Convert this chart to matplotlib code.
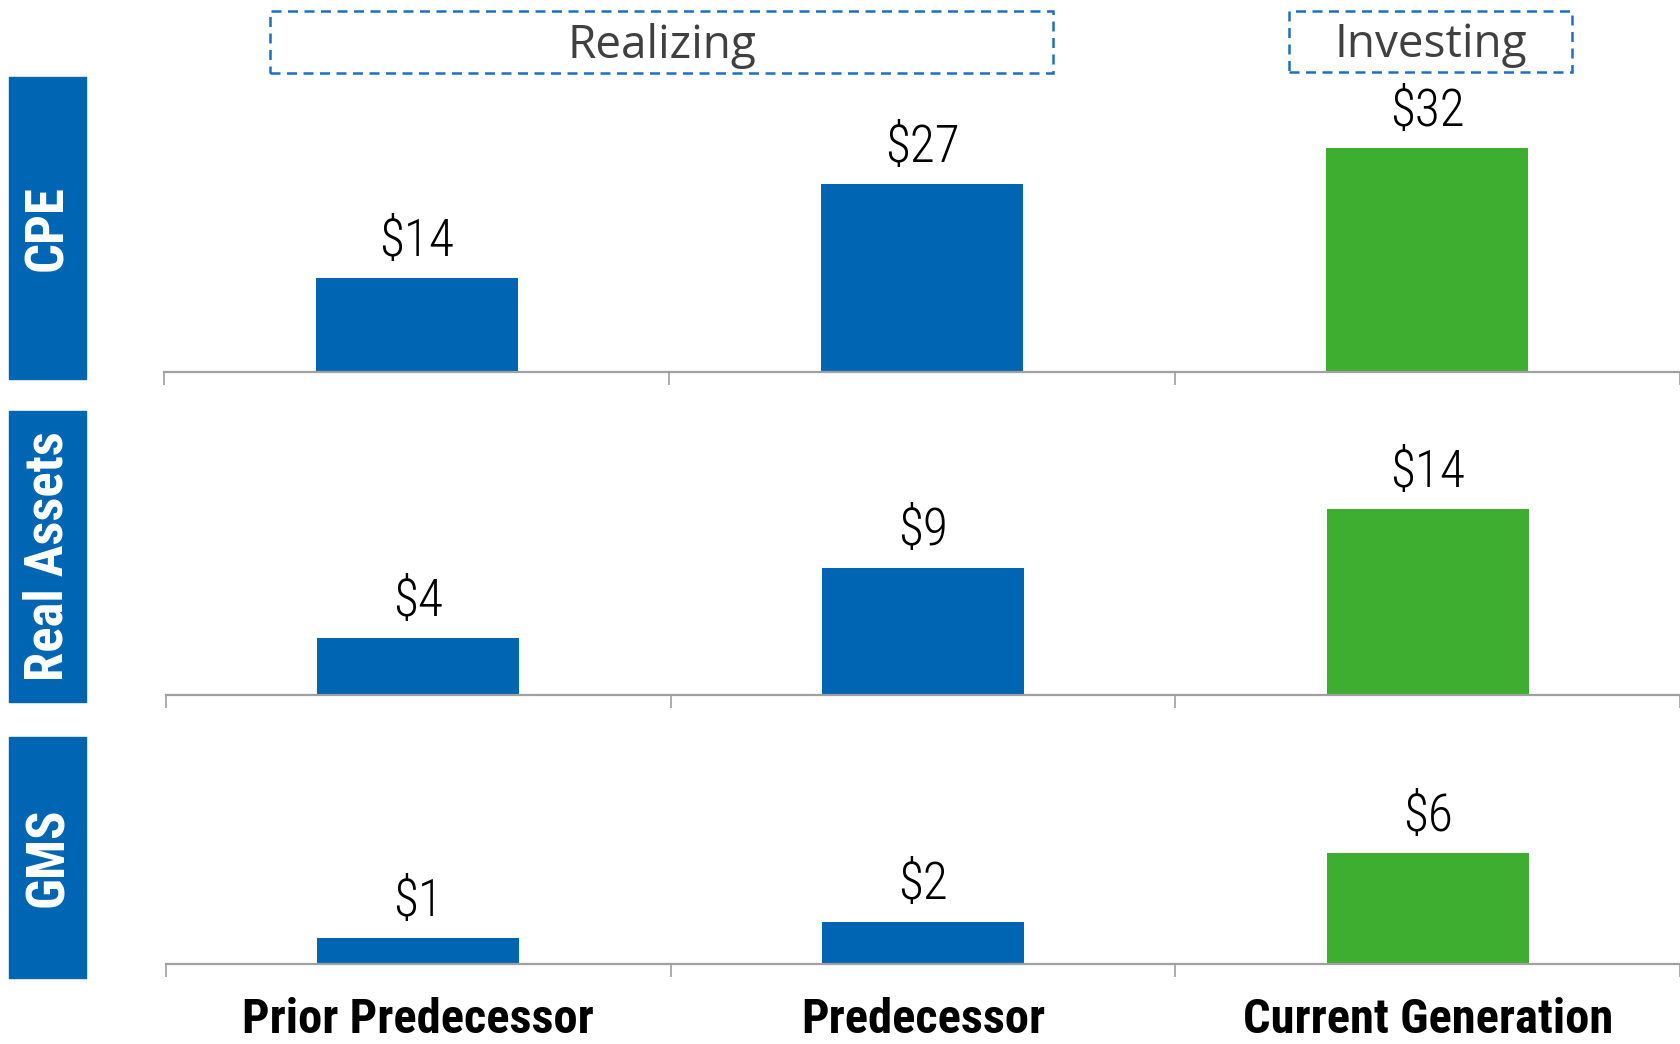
import matplotlib.pyplot as plt
import matplotlib.transforms as mtransforms
from matplotlib.patches import Rectangle

# data
categories = ['Prior Predecessor', 'Predecessor', 'Current Generation']
groups = ['CPE', 'Real Assets', 'GMS']
cpe = [13.4, 26.8, 32.0]
real_assets = [4.3, 9.6, 14.0]
gms = [1.4, 2.3, 6.0]
cpe_labels = ['$14', '$27', '$32']
real_assets_labels = ['$4', '$9', '$14']
gms_labels = ['$1', '$2', '$6']
phases = ['Realizing', 'Investing']

BLUE = '#0066B3'
GREEN = '#3DAE2F'
GRAY = '#A0A0A0'
NARROW = ['Roboto Condensed', 'Lato', 'DejaVu Sans']

W, H = 1680, 1044
fig = plt.figure(figsize=(16.8, 10.44), dpi=100)


def fx(px):
    return px / W


def fy(py):
    return 1 - py / H


# layout in pixels: axis left, baseline, top, ymax, side box top, side box bottom
layout = [
    (164, 372, 82, 41.4, 77, 379),
    (166, 695, 411, 21.4, 411, 702),
    (166, 964, 737, 12.3, 737, 978),
]
series = [cpe, real_assets, gms]
series_labels = [cpe_labels, real_assets_labels, gms_labels]
bar_colors = [BLUE, BLUE, GREEN]

axes = []
for i in range(3):
    left, base, top, ymax, btop, bbot = layout[i]
    ax = fig.add_axes([fx(left), fy(base), fx(W - left), (base - top) / H])
    x = range(len(categories))
    ax.bar(x, series[i], width=0.4, color=bar_colors)
    for xi, v, lab in zip(x, series[i], series_labels[i]):
        ax.annotate(lab, (xi, v), xytext=(0, 16), textcoords='offset points',
                    ha='center', va='baseline', fontsize=37, fontweight='light',
                    family=NARROW)
    ax.set_xlim(-0.5, 2.5)
    ax.set_ylim(0, ymax)
    ax.patch.set_visible(False)
    for s in ['top', 'right', 'left']:
        ax.spines[s].set_visible(False)
    ax.spines['bottom'].set_color(GRAY)
    ax.spines['bottom'].set_linewidth(1.6)
    ax.set_yticks([])
    ax.set_xticks([-0.5, 0.5, 1.5, 2.5])
    ax.set_xticklabels([])
    ax.tick_params(axis='x', length=9.5, width=1.2, color=GRAY, direction='out')
    axes.append(ax)

    # blue side label box
    fig.patches.append(Rectangle((fx(9), fy(bbot)), fx(86 - 9), (bbot - btop) / H,
                                 transform=fig.transFigure, color=BLUE, zorder=0))
    fig.text(fx(48), fy((btop + bbot) / 2), groups[i], rotation=90, color='white',
             fontsize=38, fontweight='bold', ha='center', va='center', family=NARROW)

# category labels under the bottom panel
trans = mtransforms.blended_transform_factory(axes[2].transData, fig.transFigure)
for xi, c in enumerate(categories):
    fig.text(xi, fy(1033), c, transform=trans, ha='center', va='baseline',
             fontsize=35, fontweight='bold', family=NARROW)

# dashed phase boxes
phase_boxes = [(270, 11, 1053, 73), (1289, 11, 1572, 72)]
for name, (x0, y0, x1, y1) in zip(phases, phase_boxes):
    fig.patches.append(Rectangle((fx(x0), fy(y1)), fx(x1 - x0), (y1 - y0) / H,
                                 transform=fig.transFigure, fill=False,
                                 edgecolor='#1F6FC0', linewidth=1.8,
                                 linestyle=(0, (4, 2.6))))
    fig.text(fx((x0 + x1) / 2), fy((y0 + y1) / 2 + 4), name, ha='center', va='center',
             fontsize=33, color='#404040', family=['Open Sans', 'DejaVu Sans'])

fig.savefig('out.png', dpi=100)
